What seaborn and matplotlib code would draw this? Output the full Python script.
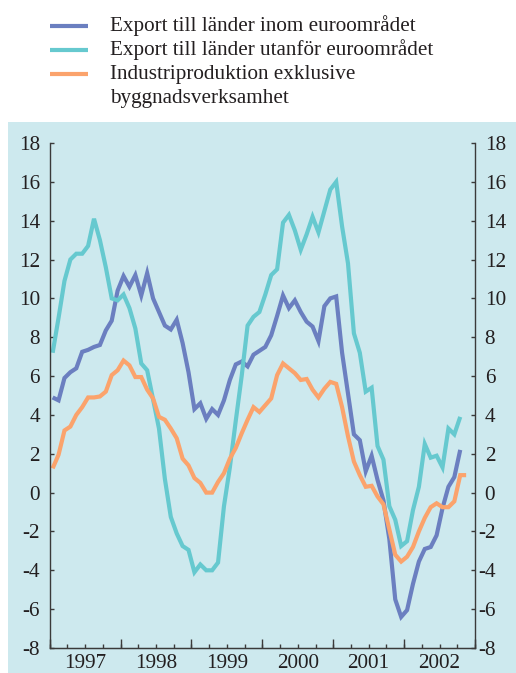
import numpy as np
import pandas as pd
import matplotlib
matplotlib.use("Agg")
import matplotlib.pyplot as plt
import seaborn as sns
from matplotlib.lines import Line2D
from matplotlib.patches import Rectangle
from matplotlib.transforms import ScaledTranslation

blue = "#6b7fc0"
cyan = "#66c9cf"
orange = "#fba36c"
bg = "#cde9ee"
dark = "#231f20"

series_names = ["Export till länder inom euroområdet",
                "Export till länder utanför euroområdet",
                "Industriproduktion exklusive byggnadsverksamhet"]
legend_lines = ["Export till länder inom euroområdet",
                "Export till länder utanför euroområdet",
                "Industriproduktion exklusive",
                "byggnadsverksamhet"]
year_labels = ["1997", "1998", "1999", "2000", "2001", "2002"]

# monthly values, first point = jan 1997
inom = [4.9, 4.75, 5.9, 6.2, 6.4, 7.25, 7.35, 7.5, 7.6, 8.35, 8.85, 10.4,
        11.15, 10.6, 11.2, 10.15, 11.3, 10.0, 9.3, 8.6, 8.4, 8.9, 7.7, 6.2,
        4.3, 4.6, 3.8, 4.3, 4.0, 4.75, 5.8, 6.6, 6.75, 6.5, 7.1, 7.3,
        7.5, 8.1, 9.1, 10.15, 9.5, 9.9, 9.3, 8.8, 8.55, 7.8, 9.6, 10.0,
        10.1, 7.2, 5.1, 3.0, 2.7, 1.1, 1.9, 0.65, -0.4, -2.4, -5.5, -6.4,
        -6.05, -4.7, -3.55, -2.9, -2.8, -2.2, -0.8, 0.3, 0.8, 2.2]
utanfor = [7.2, 9.0, 10.9, 12.0, 12.3, 12.3, 12.7, 14.1, 13.0, 11.6, 10.0, 9.9,
           10.2, 9.5, 8.45, 6.65, 6.3, 4.8, 3.3, 0.7, -1.25, -2.1, -2.75, -2.95,
           -4.1, -3.7, -4.0, -4.0, -3.6, -0.7, 1.3, 3.7, 6.0, 8.6, 9.05, 9.3,
           10.2, 11.2, 11.5, 13.9, 14.3, 13.5, 12.5, 13.3, 14.2, 13.4, 14.5, 15.6,
           16.0, 13.7, 11.8, 8.2, 7.2, 5.2, 5.4, 2.4, 1.7, -0.7, -1.4, -2.75,
           -2.5, -0.9, 0.3, 2.5, 1.8, 1.9, 1.3, 3.3, 3.0, 3.9]
industri = [1.25, 1.95, 3.2, 3.4, 4.0, 4.4, 4.9, 4.9, 4.95, 5.2, 6.05, 6.3,
            6.8, 6.55, 5.95, 5.95, 5.3, 4.85, 3.9, 3.75, 3.3, 2.8, 1.75, 1.4,
            0.75, 0.5, 0.0, 0.0, 0.55, 1.0, 1.75, 2.3, 3.05, 3.75, 4.4, 4.15,
            4.5, 4.85, 6.05, 6.65, 6.4, 6.15, 5.8, 5.85, 5.3, 4.9, 5.35, 5.7,
            5.6, 4.4, 2.9, 1.6, 0.9, 0.3, 0.35, -0.2, -0.6, -1.9, -3.2, -3.55,
            -3.3, -2.8, -2.0, -1.3, -0.75, -0.55, -0.75, -0.75, -0.45, 0.9, 0.9]

sns.set_style("ticks")
plt.rcParams["font.family"] = ["Liberation Serif", "DejaVu Serif"]
plt.rcParams["axes.unicode_minus"] = False

rows = []
for name, vals in zip(series_names, [inom, utanfor, industri]):
    for i, v in enumerate(vals):
        rows.append({"month": i, "value": v, "serie": name})
df = pd.DataFrame(rows)

fs = 15.2
W, H = 516, 673
fig = plt.figure(figsize=(W / 100, H / 100), dpi=100)
fig.patches.append(Rectangle((8 / W, 0), 1, (H - 122) / H, transform=fig.transFigure,
                             facecolor=bg, edgecolor="none", zorder=-5))

ax = fig.add_axes([49.7 / W, 1 - 648 / H, (475 - 49.7) / W, (648 - 143) / H])
ax.set_zorder(2)
ax.set_facecolor(bg)

sns.lineplot(data=df, x="month", y="value", hue="serie", hue_order=series_names,
             palette=[blue, cyan, orange], linewidth=3, errorbar=None,
             legend=False, ax=ax)
for line in ax.lines:
    line.set_solid_joinstyle("miter")
    line.set_solid_capstyle("butt")

n_months = 12 * len(year_labels)
ax.set_xlim(-0.5, n_months - 0.5)
ax.set_ylim(-8, 18)
ax.set_xlabel("")
ax.set_ylabel("")

spine_col = "#3a3a3a"
ax.spines["top"].set_visible(False)
for s in ["left", "right", "bottom"]:
    ax.spines[s].set_visible(True)
    ax.spines[s].set_color(spine_col)
    ax.spines[s].set_linewidth(1.0)

ax.set_yticks(np.arange(-8, 19, 2))
ax.tick_params(axis="y", direction="in", length=3, width=1, color=spine_col,
               left=True, right=True, labelleft=True, labelright=True,
               labelsize=fs, labelcolor=dark, pad=7)
for t in ax.yaxis.get_major_ticks():
    t.label2.set_horizontalalignment("left")

ax.set_xticks(np.arange(5.5, n_months, 12))
ax.set_xticklabels(year_labels)
ax.set_xticks(np.arange(-0.5, n_months, 3), minor=True)
ax.xaxis.remove_overlapping_locs = False
ax.tick_params(axis="x", which="major", length=0, labelsize=fs,
               labelcolor=dark, pad=4)
ax.tick_params(axis="x", which="minor", direction="in", length=3, width=1,
               color=spine_col)

sec = ax.secondary_xaxis("bottom")
sec.set_xticks(np.arange(-0.5, n_months, 12))
sec.tick_params(direction="in", length=6.5, width=1, color=spine_col,
                labelbottom=False)
sec.spines["bottom"].set_color(spine_col)

fig.canvas.draw()
# right side: let the hyphen hang left of the digits
for t in ax.yaxis.get_major_ticks():
    if t.get_loc() < 0:
        t.label2.set_transform(t.label2.get_transform() +
                               ScaledTranslation(-6.5 / 100, 0, fig.dpi_scale_trans))

# legend drawn at the top, outside the blue area
colors = [blue, cyan, orange, None]
for k, (txt, col) in enumerate(zip(legend_lines, colors)):
    base = 31 + 24 * k
    if col is not None:
        yl = 1 - (base - 5) / H
        fig.add_artist(Line2D([50 / W, 88 / W], [yl, yl], color=col, lw=3,
                              solid_capstyle="butt", transform=fig.transFigure))
    fig.text(110 / W, 1 - base / H, txt, fontsize=fs, color=dark,
             va="baseline", ha="left")

fig.savefig("out.png", dpi=100, facecolor="white")
